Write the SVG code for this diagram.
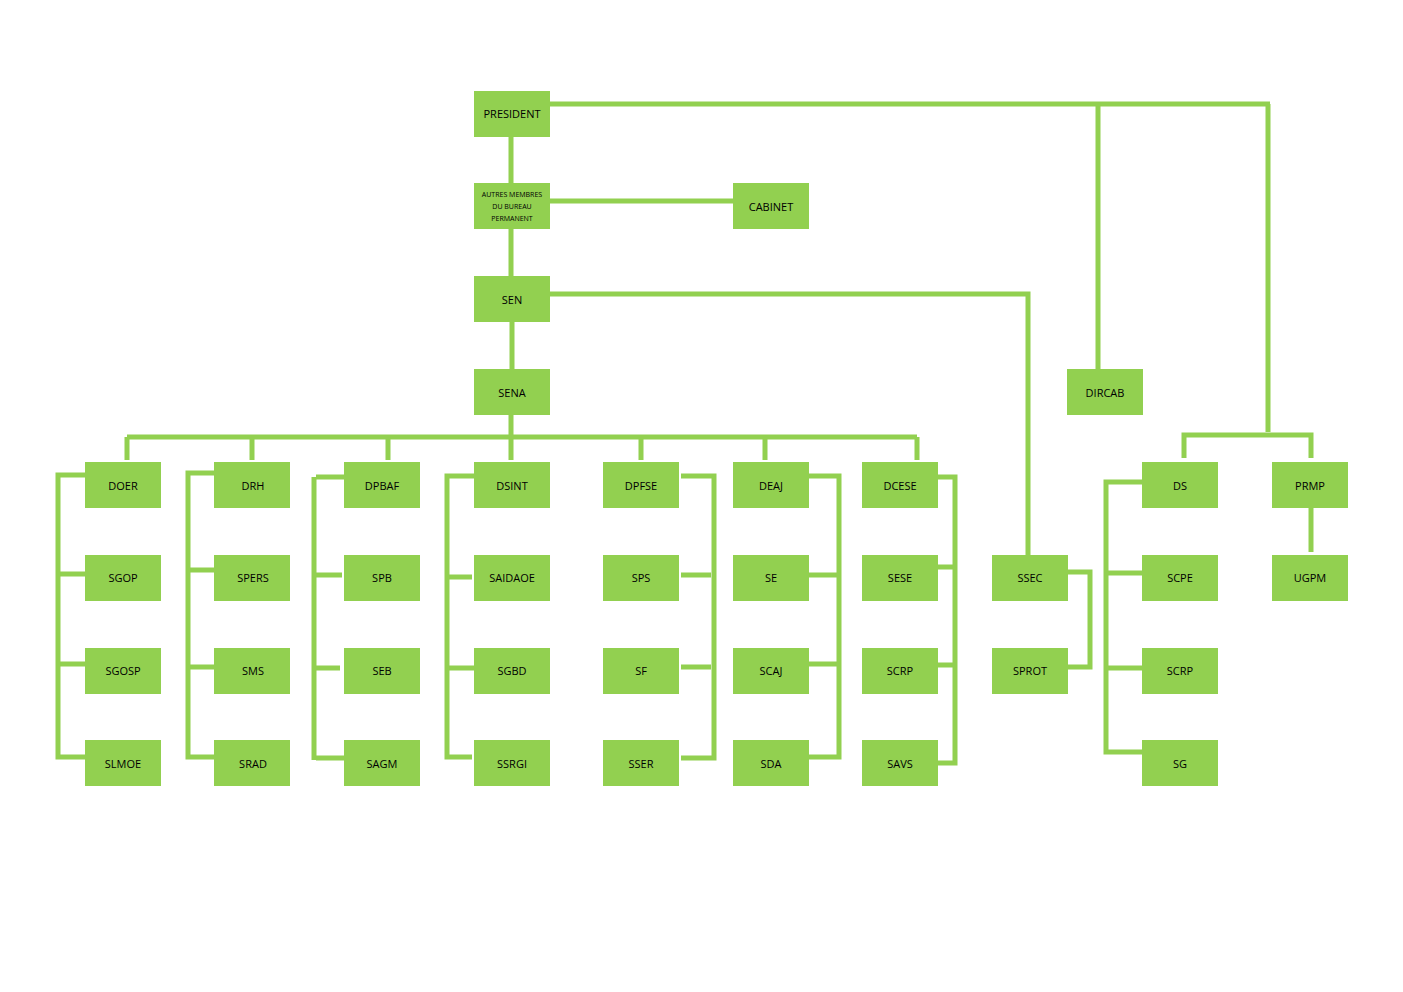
<svg xmlns="http://www.w3.org/2000/svg" width="1403" height="992" viewBox="0 0 1403 992">
<style>
.n rect{fill:#92D050}
.n text{font-family:"Open Sans","Liberation Sans",sans-serif;font-size:11px;fill:#000;text-anchor:middle;dominant-baseline:central;transform:translateY(-1px)}
.n text.s{font-size:7px}
#connectors path{fill:none;stroke:#92D050;stroke-width:5;stroke-linecap:butt;stroke-linejoin:miter}
</style>
<rect width="1403" height="992" fill="#fff"/>
<g id="connectors">
<path d="M550 104H1270M1098 104V369M1268 104V432"/>
<path d="M511 137V183M550 201H733M511 229V276M512 322V369M550 294H1028V555"/>
<path d="M511 415V460M127 437H917M127 437V460M252 437V460M388 437V460M641 437V460M765 437V460M917 437V460"/>
<path d="M1184 458V435H1311V458"/>
<path d="M1311 508V552"/>
<path d="M1142 482H1106V752H1142M1106 573H1142M1106 668H1142"/>
<path d="M1068 572H1090V667H1068"/>
<path d="M85 475H58V757H85M58 574H85M58 664H85"/>
<path d="M214 473H188V757H214M188 570H214M188 667H214"/>
<path d="M344 477H316M314 477V760M314 575H342M314 668H340M316 758H344"/>
<path d="M474 476H447V757H472M447 577H472M447 668H474"/>
<path d="M681 476H714V758H681M681 575H711M681 667H711"/>
<path d="M809 476H839V757H809M809 575H839M809 664H839"/>
<path d="M938 477H955V763H938M938 567H955M938 665H955"/>
</g>
<g id="n-president" class="n"><rect x="474" y="91" width="76" height="46"/><text x="512" y="114">PRESIDENT</text></g>
<g id="n-autres" class="n"><rect x="474" y="183" width="76" height="46"/><text class="s" x="512" y="195">AUTRES MEMBRES</text><text class="s" x="512" y="207">DU BUREAU</text><text class="s" x="512" y="219">PERMANENT</text></g>
<g id="n-cabinet" class="n"><rect x="733" y="183" width="76" height="46"/><text x="771" y="207">CABINET</text></g>
<g id="n-sen" class="n"><rect x="474" y="276" width="76" height="46"/><text x="512" y="300">SEN</text></g>
<g id="n-sena" class="n"><rect x="474" y="369" width="76" height="46"/><text x="512" y="393">SENA</text></g>
<g id="n-dircab" class="n"><rect x="1067" y="369" width="76" height="46"/><text x="1105" y="393">DIRCAB</text></g>
<g id="n-doer" class="n"><rect x="85" y="462" width="76" height="46"/><text x="123" y="486">DOER</text></g>
<g id="n-drh" class="n"><rect x="214" y="462" width="76" height="46"/><text x="253" y="486">DRH</text></g>
<g id="n-dpbaf" class="n"><rect x="344" y="462" width="76" height="46"/><text x="382" y="486">DPBAF</text></g>
<g id="n-dsint" class="n"><rect x="474" y="462" width="76" height="46"/><text x="512" y="486">DSINT</text></g>
<g id="n-dpfse" class="n"><rect x="603" y="462" width="76" height="46"/><text x="641" y="486">DPFSE</text></g>
<g id="n-deaj" class="n"><rect x="733" y="462" width="76" height="46"/><text x="771" y="486">DEAJ</text></g>
<g id="n-dcese" class="n"><rect x="862" y="462" width="76" height="46"/><text x="900" y="486">DCESE</text></g>
<g id="n-ds" class="n"><rect x="1142" y="462" width="76" height="46"/><text x="1180" y="486">DS</text></g>
<g id="n-prmp" class="n"><rect x="1272" y="462" width="76" height="46"/><text x="1310" y="486">PRMP</text></g>
<g id="n-sgop" class="n"><rect x="85" y="555" width="76" height="46"/><text x="123" y="578">SGOP</text></g>
<g id="n-spers" class="n"><rect x="214" y="555" width="76" height="46"/><text x="253" y="578">SPERS</text></g>
<g id="n-spb" class="n"><rect x="344" y="555" width="76" height="46"/><text x="382" y="578">SPB</text></g>
<g id="n-saidaoe" class="n"><rect x="474" y="555" width="76" height="46"/><text x="512" y="578">SAIDAOE</text></g>
<g id="n-sps" class="n"><rect x="603" y="555" width="76" height="46"/><text x="641" y="578">SPS</text></g>
<g id="n-se" class="n"><rect x="733" y="555" width="76" height="46"/><text x="771" y="578">SE</text></g>
<g id="n-sese" class="n"><rect x="862" y="555" width="76" height="46"/><text x="900" y="578">SESE</text></g>
<g id="n-ssec" class="n"><rect x="992" y="555" width="76" height="46"/><text x="1030" y="578">SSEC</text></g>
<g id="n-scpe" class="n"><rect x="1142" y="555" width="76" height="46"/><text x="1180" y="578">SCPE</text></g>
<g id="n-ugpm" class="n"><rect x="1272" y="555" width="76" height="46"/><text x="1310" y="578">UGPM</text></g>
<g id="n-sgosp" class="n"><rect x="85" y="648" width="76" height="46"/><text x="123" y="671">SGOSP</text></g>
<g id="n-sms" class="n"><rect x="214" y="648" width="76" height="46"/><text x="253" y="671">SMS</text></g>
<g id="n-seb" class="n"><rect x="344" y="648" width="76" height="46"/><text x="382" y="671">SEB</text></g>
<g id="n-sgbd" class="n"><rect x="474" y="648" width="76" height="46"/><text x="512" y="671">SGBD</text></g>
<g id="n-sf" class="n"><rect x="603" y="648" width="76" height="46"/><text x="641" y="671">SF</text></g>
<g id="n-scaj" class="n"><rect x="733" y="648" width="76" height="46"/><text x="771" y="671">SCAJ</text></g>
<g id="n-scrp1" class="n"><rect x="862" y="648" width="76" height="46"/><text x="900" y="671">SCRP</text></g>
<g id="n-sprot" class="n"><rect x="992" y="648" width="76" height="46"/><text x="1030" y="671">SPROT</text></g>
<g id="n-scrp2" class="n"><rect x="1142" y="648" width="76" height="46"/><text x="1180" y="671">SCRP</text></g>
<g id="n-slmoe" class="n"><rect x="85" y="740" width="76" height="46"/><text x="123" y="764">SLMOE</text></g>
<g id="n-srad" class="n"><rect x="214" y="740" width="76" height="46"/><text x="253" y="764">SRAD</text></g>
<g id="n-sagm" class="n"><rect x="344" y="740" width="76" height="46"/><text x="382" y="764">SAGM</text></g>
<g id="n-ssrgi" class="n"><rect x="474" y="740" width="76" height="46"/><text x="512" y="764">SSRGI</text></g>
<g id="n-sser" class="n"><rect x="603" y="740" width="76" height="46"/><text x="641" y="764">SSER</text></g>
<g id="n-sda" class="n"><rect x="733" y="740" width="76" height="46"/><text x="771" y="764">SDA</text></g>
<g id="n-savs" class="n"><rect x="862" y="740" width="76" height="46"/><text x="900" y="764">SAVS</text></g>
<g id="n-sg" class="n"><rect x="1142" y="740" width="76" height="46"/><text x="1180" y="764">SG</text></g>
</svg>
